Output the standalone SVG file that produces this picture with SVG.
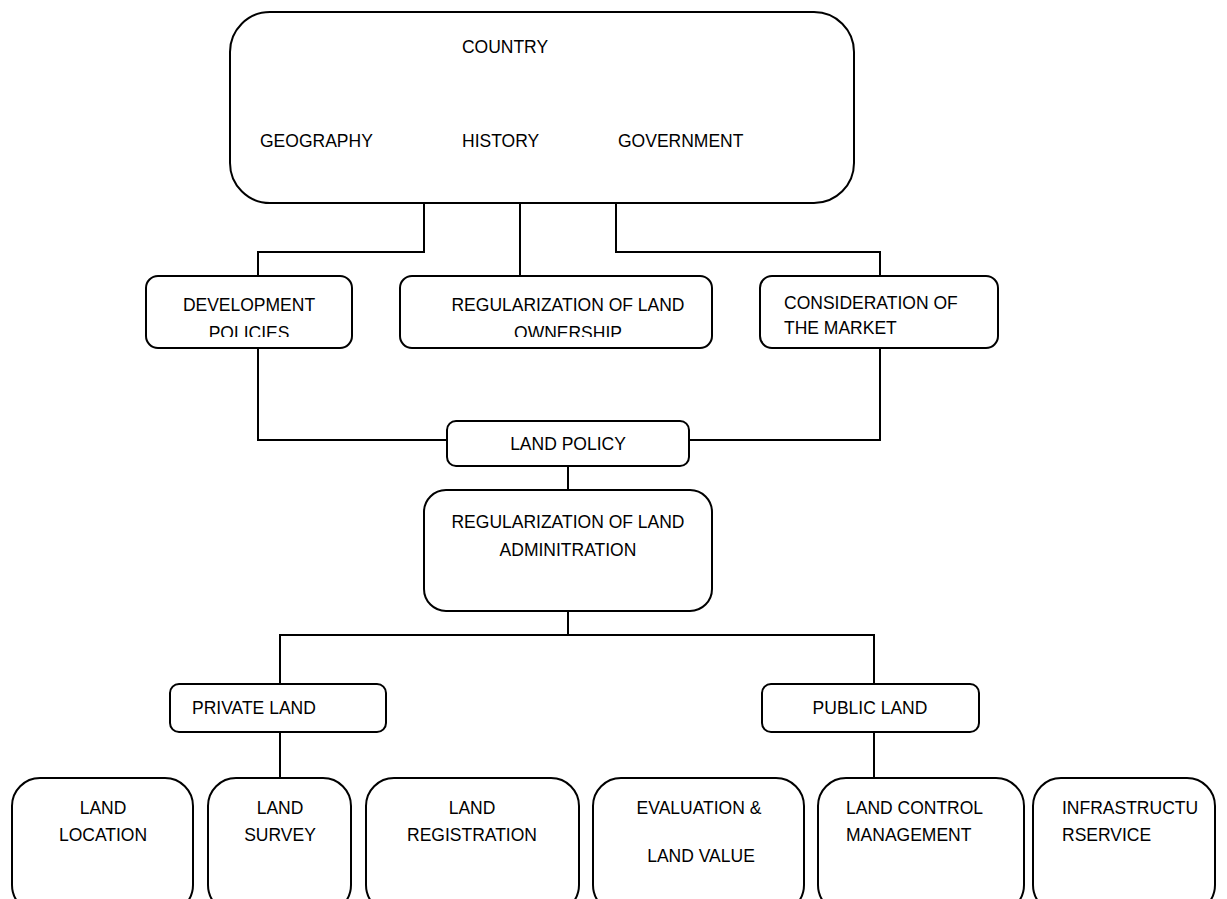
<svg xmlns="http://www.w3.org/2000/svg" width="1227" height="899" viewBox="0 0 1227 899">
<style>
.box{fill:#fff;stroke:#000;stroke-width:2}
.t{font-family:"Liberation Sans",Arial,sans-serif;font-size:17.5px;fill:#000}
.m{text-anchor:middle}
.c{fill:none;stroke:#000;stroke-width:2}
</style>
<defs>
<clipPath id="clipDev"><rect x="146" y="276" width="206" height="61"/></clipPath>
<clipPath id="clipOwn"><rect x="400" y="276" width="312" height="61"/></clipPath>
</defs>
<g id="connectors">
<path class="c" d="M424,203 V252 H258 V276"/>
<path class="c" d="M520,203 V276"/>
<path class="c" d="M616,203 V252 H880 V276"/>
<path class="c" d="M258,348 V440 H447"/>
<path class="c" d="M880,348 V440 H689"/>
<path class="c" d="M568,466 V490"/>
<path class="c" d="M568,611 V635"/>
<path class="c" d="M280,684 V635 H874 V684"/>
<path class="c" d="M280,732 V778"/>
<path class="c" d="M874,732 V778"/>
</g>
<g id="country">
<rect class="box" x="230" y="12" width="624" height="191" rx="40"/>
<text class="t m" x="505" y="53">COUNTRY</text>
<text class="t" x="260" y="147">GEOGRAPHY</text>
<text class="t" x="462" y="147">HISTORY</text>
<text class="t" x="618" y="147">GOVERNMENT</text>
</g>
<g id="development">
<rect class="box" x="146" y="276" width="206" height="72" rx="12"/>
<g clip-path="url(#clipDev)">
<text class="t m" x="249" y="311">DEVELOPMENT</text>
<text class="t m" x="249" y="339">POLICIES</text>
</g>
</g>
<g id="ownership">
<rect class="box" x="400" y="276" width="312" height="72" rx="12"/>
<g clip-path="url(#clipOwn)">
<text class="t m" x="568" y="311">REGULARIZATION OF LAND</text>
<text class="t m" x="568" y="339">OWNERSHIP</text>
</g>
</g>
<g id="market">
<rect class="box" x="760" y="276" width="238" height="72" rx="12"/>
<text class="t" x="784" y="309">CONSIDERATION OF</text>
<text class="t" x="784" y="334">THE MARKET</text>
</g>
<g id="landpolicy">
<rect class="box" x="447" y="421" width="242" height="45" rx="9"/>
<text class="t m" x="568" y="450">LAND POLICY</text>
</g>
<g id="administration">
<rect class="box" x="424" y="490" width="288" height="121" rx="22"/>
<text class="t m" x="568" y="528">REGULARIZATION OF LAND</text>
<text class="t m" x="568" y="556">ADMINITRATION</text>
</g>
<g id="privateland">
<rect class="box" x="170" y="684" width="216" height="48" rx="9"/>
<text class="t" x="192" y="714">PRIVATE LAND</text>
</g>
<g id="publicland">
<rect class="box" x="762" y="684" width="217" height="48" rx="9"/>
<text class="t m" x="870" y="714">PUBLIC LAND</text>
</g>
<g id="landlocation">
<rect class="box" x="12" y="778" width="181" height="135" rx="28"/>
<text class="t m" x="103" y="814">LAND</text>
<text class="t m" x="103" y="841">LOCATION</text>
</g>
<g id="landsurvey">
<rect class="box" x="208" y="778" width="143" height="135" rx="28"/>
<text class="t m" x="280" y="814">LAND</text>
<text class="t m" x="280" y="841">SURVEY</text>
</g>
<g id="landregistration">
<rect class="box" x="366" y="778" width="213" height="135" rx="28"/>
<text class="t m" x="472" y="814">LAND</text>
<text class="t m" x="472" y="841">REGISTRATION</text>
</g>
<g id="evaluation">
<rect class="box" x="593" y="778" width="211" height="135" rx="28"/>
<text class="t m" x="699" y="814">EVALUATION &amp;</text>
<text class="t m" x="701" y="862">LAND VALUE</text>
</g>
<g id="landcontrol">
<rect class="box" x="818" y="778" width="206" height="135" rx="28"/>
<text class="t" x="846" y="814">LAND CONTROL</text>
<text class="t" x="846" y="841">MANAGEMENT</text>
</g>
<g id="infrastructure">
<rect class="box" x="1033" y="778" width="182" height="135" rx="28"/>
<text class="t" x="1062" y="814">INFRASTRUCTU</text>
<text class="t" x="1062" y="841">RSERVICE</text>
</g>
</svg>
